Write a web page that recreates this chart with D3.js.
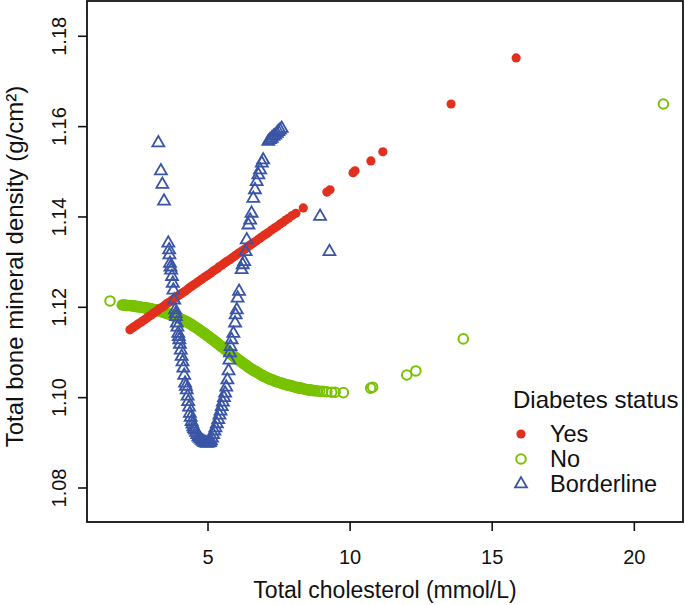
<!DOCTYPE html>
<html>
<head>
<meta charset="utf-8">
<script src="https://cdn.jsdelivr.net/npm/d3@7/dist/d3.min.js"></script>
<style>
html,body{margin:0;padding:0;background:#fff;}
svg text{font-family:"Liberation Sans",Arial,sans-serif;fill:#111;}
</style>
</head>
<body>
<svg id="chart" width="685" height="605"></svg>
<script>
// ---------- data ----------
const yesX = [2.27,2.35,2.42,2.5,2.58,2.66,2.73,2.8,2.88,2.95,3.02,3.1,3.18,3.25,3.32,3.4,3.47,3.55,3.62,3.7,3.78,3.85,3.92,4.0,4.08,4.15,4.22,4.3,4.38,4.45,4.52,4.6,4.68,4.75,4.82,4.9,4.98,5.05,5.12,5.2,5.28,5.35,5.42,5.5,5.58,5.65,5.72,5.8,5.88,5.95,6.02,6.1,6.18,6.25,6.32,6.4,6.48,6.55,6.62,6.7,6.78,6.85,6.92,7.0,7.08,7.15,7.25,7.35,7.45,7.55,7.65,7.75,7.85,7.98,8.11,8.37,9.2,9.31,10.12,10.19,10.75,11.17,13.57,15.86];
const yesY = [1.1149,1.1153,1.1156,1.1159,1.1163,1.1166,1.1169,1.1172,1.1176,1.1179,1.1182,1.1186,1.1189,1.1192,1.1196,1.1199,1.1202,1.1206,1.1209,1.1212,1.1216,1.1219,1.1222,1.1226,1.1229,1.1232,1.1235,1.1239,1.1243,1.1246,1.1249,1.1252,1.1256,1.1259,1.1262,1.1266,1.1269,1.1272,1.1275,1.1279,1.1282,1.1285,1.1289,1.1292,1.1296,1.1299,1.1302,1.1305,1.1309,1.1312,1.1315,1.1319,1.1322,1.1325,1.1328,1.1332,1.1336,1.1339,1.1342,1.1345,1.1349,1.1352,1.1355,1.1359,1.1362,1.1365,1.1370,1.1374,1.1378,1.1383,1.1387,1.1392,1.1396,1.1402,1.1407,1.1419,1.1454,1.1459,1.1497,1.1501,1.1523,1.1543,1.1649,1.1751];

const noX = [1.57,2.0,2.05,2.1,2.15,2.2,2.25,2.3,2.35,2.4,2.45,2.5,2.55,2.6,2.65,2.7,2.75,2.8,2.85,2.9,2.95,3.0,3.05,3.1,3.15,3.2,3.25,3.3,3.35,3.4,3.45,3.5,3.55,3.6,3.65,3.7,3.75,3.8,3.85,3.9,3.95,4.0,4.05,4.1,4.15,4.2,4.25,4.3,4.35,4.4,4.45,4.5,4.55,4.6,4.65,4.7,4.75,4.8,4.85,4.9,4.95,5.0,5.05,5.1,5.15,5.2,5.25,5.3,5.35,5.4,5.45,5.5,5.55,5.6,5.65,5.7,5.75,5.8,5.85,5.9,5.95,6.0,6.05,6.1,6.15,6.2,6.25,6.3,6.35,6.4,6.45,6.5,6.55,6.6,6.65,6.7,6.75,6.8,6.85,6.9,6.95,7.0,7.05,7.1,7.15,7.2,7.25,7.3,7.35,7.4,7.45,7.5,7.55,7.6,7.65,7.7,7.75,7.8,7.85,7.9,7.95,8.0,8.05,8.1,8.15,8.2,8.25,8.3,8.35,8.4,8.45,8.5,8.55,8.6,8.65,8.7,8.78,8.85,8.95,9.05,9.2,9.37,9.49,9.78,10.74,10.81,12.01,12.33,14.0,21.04];
const noY = [1.1213,1.1204,1.1204,1.1204,1.1203,1.1203,1.1203,1.1203,1.1202,1.1202,1.1201,1.1201,1.1200,1.1200,1.1199,1.1199,1.1198,1.1198,1.1197,1.1197,1.1196,1.1196,1.1195,1.1194,1.1194,1.1193,1.1192,1.1191,1.1190,1.1189,1.1188,1.1187,1.1186,1.1185,1.1184,1.1183,1.1182,1.1180,1.1179,1.1178,1.1176,1.1175,1.1173,1.1172,1.1170,1.1169,1.1167,1.1166,1.1164,1.1162,1.1160,1.1158,1.1156,1.1154,1.1152,1.1150,1.1147,1.1145,1.1143,1.1141,1.1138,1.1136,1.1134,1.1131,1.1129,1.1127,1.1124,1.1122,1.1119,1.1117,1.1114,1.1112,1.1109,1.1107,1.1104,1.1102,1.1099,1.1097,1.1094,1.1092,1.1089,1.1087,1.1085,1.1082,1.1080,1.1078,1.1075,1.1073,1.1071,1.1069,1.1066,1.1064,1.1062,1.1060,1.1058,1.1057,1.1055,1.1053,1.1051,1.1049,1.1047,1.1046,1.1044,1.1043,1.1041,1.1040,1.1039,1.1038,1.1036,1.1035,1.1034,1.1033,1.1032,1.1031,1.1030,1.1029,1.1028,1.1027,1.1026,1.1026,1.1025,1.1024,1.1023,1.1022,1.1021,1.1021,1.1020,1.1020,1.1019,1.1018,1.1017,1.1017,1.1016,1.1016,1.1015,1.1015,1.1014,1.1014,1.1013,1.1013,1.1012,1.1011,1.1011,1.1010,1.1020,1.1022,1.1049,1.1058,1.1129,1.1649];

const borderX = [3.27,3.36,3.41,3.47,3.62,3.65,3.66,3.68,3.7,3.72,3.75,3.78,3.8,3.83,3.86,3.88,3.89,3.92,3.94,3.97,3.99,4.01,4.03,4.06,4.09,4.12,4.15,4.18,4.21,4.24,4.27,4.3,4.32,4.35,4.38,4.41,4.44,4.47,4.5,4.53,4.56,4.6,4.64,4.68,4.72,4.76,4.8,4.84,4.88,4.92,4.95,4.99,5.02,5.06,5.09,5.12,5.16,5.2,5.24,5.28,5.33,5.38,5.42,5.46,5.5,5.54,5.58,5.62,5.66,5.7,5.74,5.77,5.79,5.81,5.85,5.91,5.97,5.99,6.03,6.06,6.11,6.2,6.24,6.29,6.34,6.38,6.44,6.5,6.55,6.61,6.67,6.73,6.79,6.85,6.91,6.96,7.14,7.2,7.26,7.32,7.38,7.44,7.49,7.55,7.61,8.96,9.29];
const borderY = [1.1563,1.1501,1.1471,1.1434,1.1341,1.1326,1.1315,1.1296,1.1288,1.1281,1.1267,1.1252,1.1237,1.1215,1.1193,1.1185,1.1178,1.1164,1.1155,1.1141,1.1134,1.1127,1.1117,1.1104,1.1090,1.1078,1.1064,1.1048,1.1031,1.1024,1.1016,1.1002,1.0990,1.0978,1.0964,1.0955,1.0946,1.0940,1.0934,1.0930,1.0927,1.0922,1.0917,1.0912,1.0909,1.0907,1.0904,1.0902,1.0900,1.0899,1.0898,1.0898,1.0898,1.0899,1.0900,1.0903,1.0909,1.0917,1.0925,1.0932,1.0941,1.0950,1.0960,1.0969,1.0979,1.0989,1.0999,1.1009,1.1022,1.1038,1.1058,1.1082,1.1098,1.1112,1.1127,1.1141,1.1164,1.1182,1.1193,1.1219,1.1234,1.1282,1.1293,1.1300,1.1322,1.1348,1.1381,1.1392,1.1407,1.1440,1.1459,1.1477,1.1492,1.1503,1.1518,1.1525,1.1566,1.1570,1.1573,1.1577,1.1580,1.1584,1.1588,1.1591,1.1595,1.1400,1.1322];

const xTicks = [5,10,15,20];
const yTicks = [1.08,1.10,1.12,1.14,1.16,1.18];
const legendTitle = "Diabetes status";
const legendLabels = ["Yes","No","Borderline"];
const xTitle = "Total cholesterol (mmol/L)";
const yTitle = "Total bone mineral density (g/cm²)";

// ---------- layout ----------
const colors = {yes:"#E2301E", no:"#78C200", border:"#3A55A5"};
const L = 87, R = 683, T = 1, B = 522;
const svg = d3.select("#chart");

const x = d3.scaleLinear().domain([0.76, 21.73]).range([L, R]);
const y = d3.scaleLinear().domain([1.07236, 1.1877]).range([B, T]);

const fsTick = 20;

// axes
const xAxis = d3.axisBottom(x).tickValues(xTicks).tickSize(9).tickPadding(19).tickFormat(d3.format("d"));
const gx = svg.append("g").attr("transform", `translate(0,${B})`).call(xAxis);
gx.select(".domain").remove();
gx.selectAll("line").attr("stroke","#111").attr("stroke-width",1.6);
gx.selectAll("text").attr("font-size", fsTick).attr("fill","#111");

const yAxis = d3.axisLeft(y).tickValues(yTicks).tickSize(9).tickFormat(d3.format(".2f"));
const gy = svg.append("g").attr("transform", `translate(${L},0)`).call(yAxis);
gy.select(".domain").remove();
gy.selectAll("line").attr("stroke","#111").attr("stroke-width",1.6);
gy.selectAll("text")
  .attr("font-size", fsTick).attr("fill","#111")
  .attr("x", null).attr("dy", null)
  .attr("text-anchor","middle")
  .attr("transform","translate(-21,0) rotate(-90)");

// titles
svg.append("text").attr("x", (L+R)/2).attr("y", 598).attr("text-anchor","middle")
  .attr("font-size", 23).text(xTitle);
svg.append("text").attr("transform", `translate(23,${(T+B)/2 + 5}) rotate(-90)`)
  .attr("text-anchor","middle").attr("font-size", 24).text(yTitle);

// plot area clip
svg.append("clipPath").attr("id","clip").append("rect")
  .attr("x",L).attr("y",T).attr("width",R-L).attr("height",B-T);
const plot = svg.append("g").attr("clip-path","url(#clip)");

const tri = (r) => {
  const xc = r*Math.sqrt(3)/2, yc = r/2;
  return `M0,${-r}L${xc},${yc}L${-xc},${yc}Z`;
};

const noData = noX.map((v,i)=>({x:v,y:noY[i]}));
const yesData = yesX.map((v,i)=>({x:v,y:yesY[i]}));
const borderData = borderX.map((v,i)=>({x:v,y:borderY[i]}));

plot.selectAll(".no").data(noData).join("circle")
  .attr("cx",d=>x(d.x)).attr("cy",d=>y(d.y)).attr("r",4.8)
  .attr("fill","none").attr("stroke",colors.no).attr("stroke-width",2);

plot.selectAll(".yes").data(yesData).join("circle")
  .attr("cx",d=>x(d.x)).attr("cy",d=>y(d.y)).attr("r",4.6)
  .attr("fill",colors.yes);

plot.selectAll(".bl").data(borderData).join("path")
  .attr("transform",d=>`translate(${x(d.x)},${y(d.y)})`)
  .attr("d",tri(6.9))
  .attr("fill","none").attr("stroke",colors.border).attr("stroke-width",1.8);

// box
svg.append("rect").attr("x",L).attr("y",T).attr("width",R-L).attr("height",B-T)
  .attr("fill","none").attr("stroke","#111").attr("stroke-width",1.8);

// legend
const lg = svg.append("g");
lg.append("text").attr("x",513).attr("y",408).attr("font-size",24).text(legendTitle);
const ly = [434, 459, 484];
lg.append("circle").attr("cx",521).attr("cy",ly[0]).attr("r",4.6).attr("fill",colors.yes);
lg.append("circle").attr("cx",521).attr("cy",ly[1]).attr("r",4.8).attr("fill","none").attr("stroke",colors.no).attr("stroke-width",2);
lg.append("path").attr("transform",`translate(521,${ly[2]})`).attr("d",tri(6.9)).attr("fill","none").attr("stroke",colors.border).attr("stroke-width",1.8);
legendLabels.forEach((t,i)=>{
  lg.append("text").attr("x",550).attr("y",ly[i]+8).attr("font-size",23.5).text(t);
});
</script>
</body>
</html>
